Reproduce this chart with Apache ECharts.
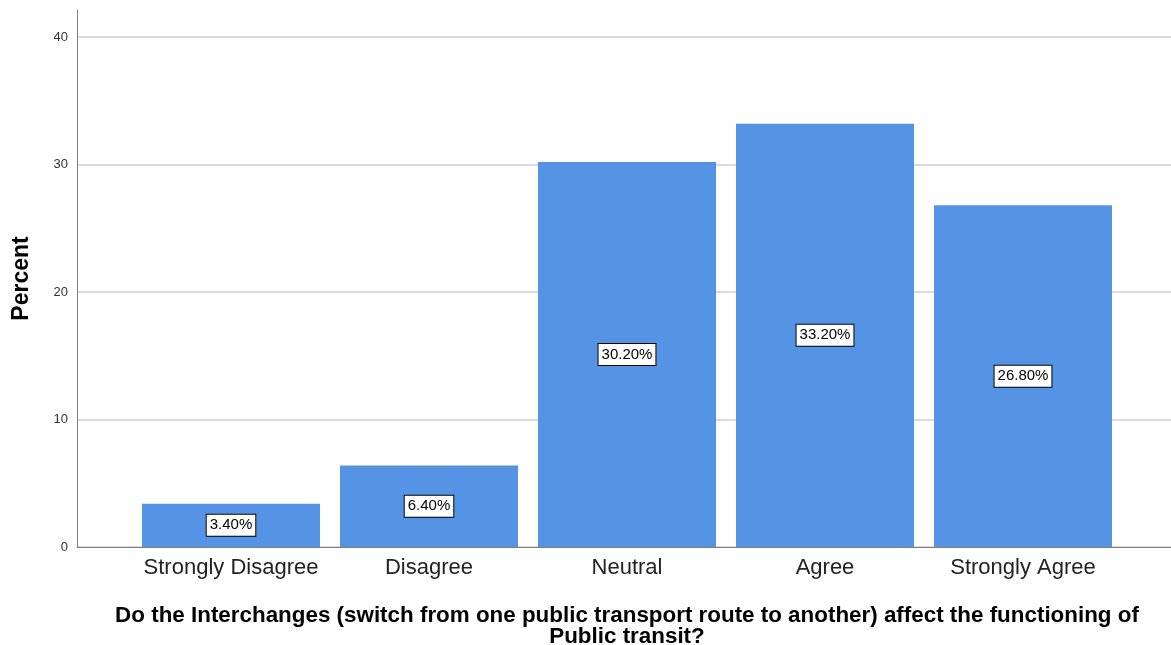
<!DOCTYPE html>
<html>
<head>
<meta charset="utf-8">
<script src="https://cdn.jsdelivr.net/npm/echarts@6/dist/echarts.min.js"></script>
<style>
  html, body { margin: 0; padding: 0; background: #fff; }
  #chart { width: 1171px; height: 645px; }
</style>
</head>
<body>
<div id="chart"></div>
<script>
// Responses to the interchange question, as percentages of respondents
const categories = ['Strongly Disagree', 'Disagree', 'Neutral', 'Agree', 'Strongly Agree'];
const percents = [3.4, 6.4, 30.2, 33.2, 26.8];
const yTicks = [0, 10, 20, 30, 40];

const xTitle = 'Do the Interchanges (switch from one public transport route to another) affect the functioning of\nPublic transit?';
const font = 'Arial, "Liberation Sans", sans-serif';
const barColor = '#5594e4';

const chart = echarts.init(document.getElementById('chart'));
chart.setOption({
  animation: false,
  textStyle: { fontFamily: font },
  grid: [
    // axis frame (y-axis line runs a little above the 40 line)
    { left: 77, right: 0, top: 10, bottom: 98, outerBoundsMode: 'none' },
    // gridlines and tick labels
    { left: 77, right: 0, top: 37, bottom: 98, outerBoundsMode: 'none' },
    // bars
    { left: 132, right: 49, top: 37, bottom: 98, outerBoundsMode: 'none' }
  ],
  xAxis: [
    { gridIndex: 0, type: 'value', min: 0, max: 1,
      axisLine: { show: true, lineStyle: { color: '#7f7f7f', width: 1 } },
      axisTick: { show: false }, axisLabel: { show: false }, splitLine: { show: false } },
    { gridIndex: 1, type: 'value', min: 0, max: 1, show: false },
    { gridIndex: 2, type: 'category', data: categories,
      axisLine: { show: false }, axisTick: { show: false },
      axisLabel: { interval: 0, fontSize: 22, color: '#222', margin: 10, fontFamily: font },
      name: xTitle, nameLocation: 'middle', nameGap: 58,
      nameTextStyle: { fontSize: 22.4, fontWeight: 'bold', color: '#000', lineHeight: 21, fontFamily: font } }
  ],
  yAxis: [
    { gridIndex: 0, type: 'value', min: 0, max: 42.1,
      axisLine: { show: true, lineStyle: { color: '#7f7f7f', width: 1 } },
      axisTick: { show: false }, axisLabel: { show: false }, splitLine: { show: false },
      name: 'Percent', nameLocation: 'middle', nameGap: 44, nameRotate: 90,
      nameTextStyle: { fontSize: 23, fontWeight: 'bold', color: '#000', fontFamily: font } },
    { gridIndex: 1, type: 'value', min: 0, max: yTicks[yTicks.length - 1], interval: 10,
      axisLine: { show: false }, axisTick: { show: false },
      axisLabel: { fontSize: 13, color: '#333', margin: 9, fontFamily: font },
      splitLine: { show: true, lineStyle: { color: '#cfcfcf', width: 1.5 } } },
    { gridIndex: 2, type: 'value', min: 0, max: yTicks[yTicks.length - 1], show: false }
  ],
  series: [
    {
      type: 'bar', xAxisIndex: 2, yAxisIndex: 2,
      data: percents,
      barWidth: 178,
      itemStyle: { color: barColor },
      label: {
        show: true, position: 'inside',
        formatter: p => p.value.toFixed(2) + '%',
        fontSize: 15, lineHeight: 16, color: '#000', fontFamily: font,
        backgroundColor: '#fff', borderColor: '#000', borderWidth: 1,
        padding: [3, 3, 2, 3]
      }
    }
  ]
});
</script>
</body>
</html>
